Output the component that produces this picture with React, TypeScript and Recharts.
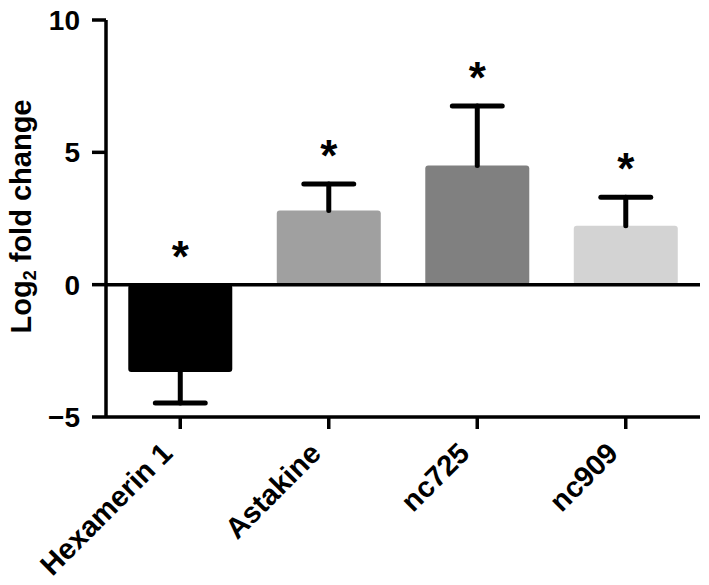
import { BarChart, Bar, XAxis, YAxis, Cell, ReferenceLine } from 'recharts';

const genes = ['Hexamerin 1', 'Astakine', 'nc725', 'nc909'];
const log2Fold = [-3.3, 2.8, 4.5, 2.23];
const sem = [1.17, 1.0, 2.25, 1.07];
const significant = [true, true, true, true];
const barColors = ['#000000', '#a0a0a0', '#808080', '#d3d3d3'];
const yTicks = [-5, 0, 5, 10];

const data = genes.map((gene, i) => ({
  gene,
  value: log2Fold[i],
  err: sem[i],
  sig: significant[i],
}));

const FONT = '"Liberation Sans", Arial, sans-serif';

// bar + one-sided error bar + asterisk, all scaled off the bar's own height
const BarWithError = (props: any) => {
  const { x, y, width, height, fill, payload } = props;
  const v = payload.value;
  const top = Math.min(y, y + height);
  const bottom = Math.max(y, y + height);
  const k = Math.abs(height) / Math.abs(v);
  const valPx = v >= 0 ? top : bottom;
  const zeroPx = v >= 0 ? bottom : top;
  const errPx = v >= 0 ? top - payload.err * k : bottom + payload.err * k;
  const cx = x + width / 2;
  const cap = width * 0.24;
  const starBase = (v >= 0 ? errPx : zeroPx) - 13;
  return (
    <g>
      <rect x={x} y={top} width={width} height={bottom - top} rx={3} ry={3} fill={fill} />
      <line x1={cx} y1={valPx} x2={cx} y2={errPx} stroke="#000" strokeWidth={5} strokeLinecap="round" />
      <line x1={cx - cap} y1={errPx} x2={cx + cap} y2={errPx} stroke="#000" strokeWidth={5} strokeLinecap="round" />
      {payload.sig && (
        <text x={cx} y={starBase} textAnchor="middle" fontFamily={FONT} fontWeight="bold" fontSize={44} fill="#000">
          *
        </text>
      )}
    </g>
  );
};

const XTick = (props: any) => {
  const { x, y, payload } = props;
  return (
    <text
      transform={`translate(${x - 6},${y + 24}) rotate(-45)`}
      textAnchor="end"
      fontFamily={FONT}
      fontWeight="bold"
      fontSize={29}
      fill="#000"
    >
      {payload.value}
    </text>
  );
};

const YLabel = (props: any) => {
  const vb = props.viewBox || { x: 2, y: 20, width: 104, height: 397 };
  const cy = vb.y + vb.height / 2 - 2;
  const bx = vb.x + 29;
  return (
    <text
      transform={`translate(${bx},${cy}) rotate(-90)`}
      textAnchor="middle"
      fontFamily={FONT}
      fontWeight="bold"
      fontSize={29}
      fill="#000"
    >
      Log<tspan fontSize={18} dy={5}>2</tspan>
      <tspan dy={-5}> fold change</tspan>
    </text>
  );
};

export default function App() {
  return (
    <div style={{ position: 'absolute', left: 0, top: 0, background: '#fff' }}>
      <BarChart
        width={709}
        height={585}
        data={data}
        margin={{ top: 20, right: 9, bottom: 0, left: 2 }}
        barCategoryGap="15%"
      >
        <XAxis
          dataKey="gene"
          height={168}
          interval={0}
          axisLine={{ stroke: '#000', strokeWidth: 3.5 }}
          tickLine={{ stroke: '#000', strokeWidth: 3.5 }}
          tickSize={12}
          tick={<XTick />}
        />
        <YAxis
          width={104}
          domain={[-5, 10]}
          ticks={yTicks}
          allowDataOverflow
          axisLine={{ stroke: '#000', strokeWidth: 3.5 }}
          tickLine={{ stroke: '#000', strokeWidth: 3.5 }}
          tickSize={14}
          tickMargin={12}
          tickFormatter={(v: number) => (v < 0 ? `\u2212${-v}` : `${v}`)}
          tick={{ fill: '#000', fontFamily: FONT, fontWeight: 'bold', fontSize: 28 }}
          label={<YLabel />}
        />
        <ReferenceLine y={0} stroke="#000" strokeWidth={3.5} />
        <Bar dataKey="value" shape={<BarWithError />} isAnimationActive={false}>
          {data.map((d, i) => (
            <Cell key={d.gene} fill={barColors[i]} />
          ))}
        </Bar>
      </BarChart>
    </div>
  );
}
